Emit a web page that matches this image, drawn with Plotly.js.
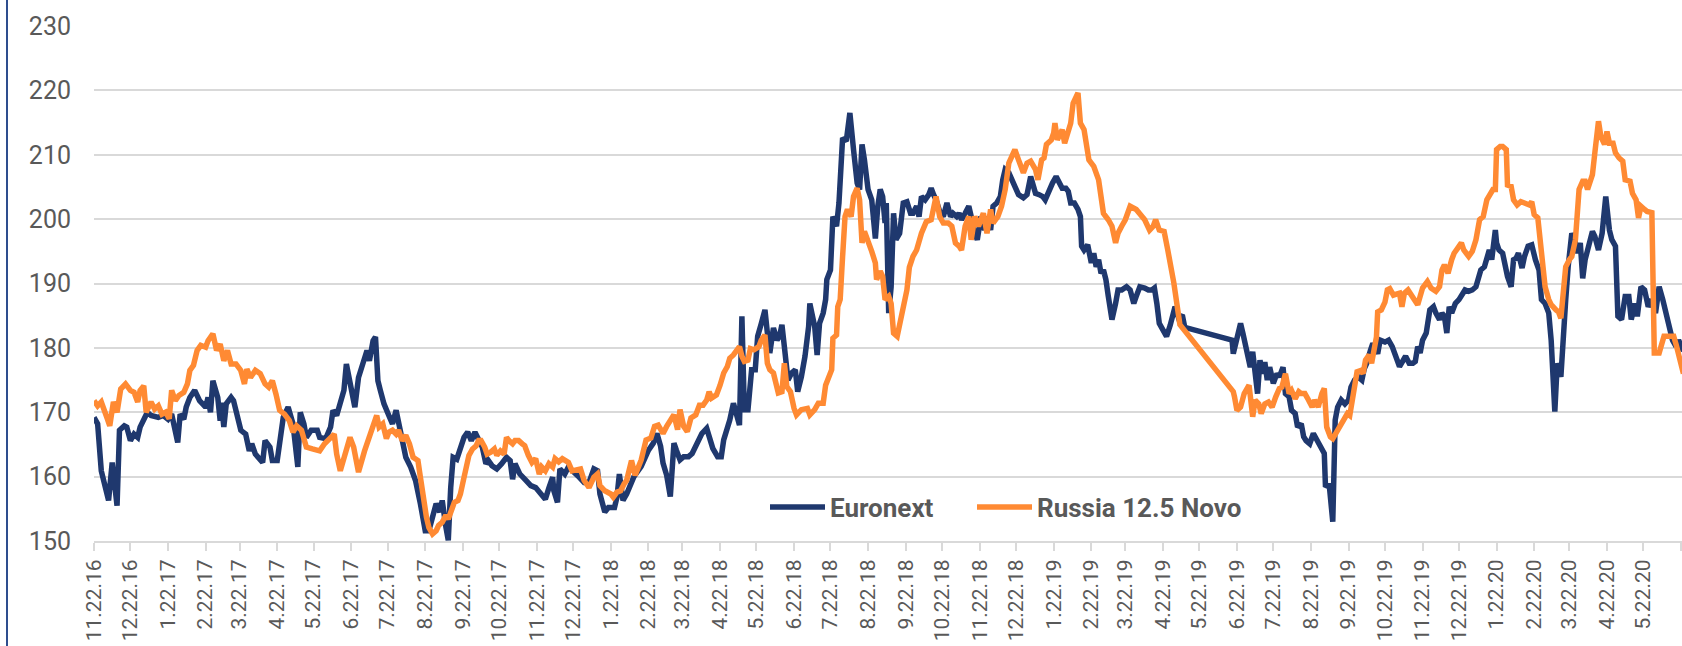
<!DOCTYPE html>
<html><head><meta charset="utf-8">
<script src="https://cdn.plot.ly/plotly-3.0.1.min.js"></script>
<style>html,body{margin:0;padding:0;background:#fff;} #chart{width:1682px;height:646px;}</style>
</head><body><div id="chart"></div>
<script>
// ---- Euronext ----
const euronextDates = [
"2016-11-22","2016-11-25","2016-11-28","2016-12-01","2016-12-04","2016-12-07","2016-12-11","2016-12-13","2016-12-17","2016-12-19","2016-12-22","2016-12-25","2016-12-28","2016-12-30",
"2017-01-02","2017-01-05","2017-01-08","2017-01-14","2017-01-18","2017-01-22","2017-01-25","2017-01-30","2017-02-01","2017-02-04","2017-02-06","2017-02-09","2017-02-13","2017-02-17","2017-02-22","2017-02-24","2017-02-26","2017-02-28",
"2017-03-04","2017-03-06","2017-03-07","2017-03-09","2017-03-11","2017-03-15","2017-03-17","2017-03-20","2017-03-23","2017-03-27","2017-03-30","2017-04-01","2017-04-04","2017-04-10","2017-04-12","2017-04-16","2017-04-18","2017-04-22","2017-04-25","2017-04-27",
"2017-05-01","2017-05-05","2017-05-09","2017-05-11","2017-05-14","2017-05-16","2017-05-20","2017-05-25","2017-05-27","2017-06-01","2017-06-05","2017-06-07","2017-06-10","2017-06-16","2017-06-18","2017-06-21","2017-06-25","2017-06-28",
"2017-07-02","2017-07-05","2017-07-07","2017-07-10","2017-07-12","2017-07-14","2017-07-16","2017-07-19","2017-07-23","2017-07-26","2017-07-29","2017-07-31","2017-08-03","2017-08-06","2017-08-10","2017-08-14","2017-08-18","2017-08-22","2017-08-25","2017-08-29","2017-08-31",
"2017-09-03","2017-09-05","2017-09-08","2017-09-10","2017-09-12","2017-09-14","2017-09-17","2017-09-20","2017-09-23","2017-09-26","2017-09-29","2017-10-02","2017-10-05","2017-10-08","2017-10-11","2017-10-13","2017-10-16","2017-10-20","2017-10-24","2017-10-28","2017-10-31",
"2017-11-02","2017-11-04","2017-11-08","2017-11-13","2017-11-17","2017-11-21","2017-11-25","2017-11-29","2017-12-02","2017-12-05","2017-12-06","2017-12-09","2017-12-11","2017-12-15","2017-12-18","2017-12-22","2017-12-27","2017-12-31",
"2018-01-04","2018-01-08","2018-01-11","2018-01-13","2018-01-17","2018-01-20","2018-01-25","2018-01-27","2018-01-29","2018-02-01","2018-02-04","2018-02-10","2018-02-16","2018-02-22","2018-02-26",
"2018-03-01","2018-03-04","2018-03-06","2018-03-09","2018-03-12","2018-03-15","2018-03-17","2018-03-20","2018-03-23","2018-03-27","2018-03-30","2018-04-03","2018-04-07","2018-04-11","2018-04-14","2018-04-16","2018-04-20","2018-04-23","2018-04-25","2018-04-27","2018-04-30",
"2018-05-03","2018-05-06","2018-05-08","2018-05-10","2018-05-12","2018-05-15","2018-05-18","2018-05-21","2018-05-23","2018-05-26","2018-05-29","2018-05-31","2018-06-02","2018-06-05","2018-06-08","2018-06-10","2018-06-12","2018-06-14","2018-06-17","2018-06-20","2018-06-23","2018-06-25","2018-06-28",
"2018-07-01","2018-07-04","2018-07-05","2018-07-07","2018-07-09","2018-07-11","2018-07-13","2018-07-16","2018-07-18","2018-07-19","2018-07-22","2018-07-24","2018-07-27","2018-07-29","2018-08-01","2018-08-04","2018-08-07","2018-08-10","2018-08-13","2018-08-15","2018-08-17","2018-08-19","2018-08-22","2018-08-25","2018-08-28","2018-08-30",
"2018-09-01","2018-09-03","2018-09-05","2018-09-06","2018-09-08","2018-09-10","2018-09-12","2018-09-14","2018-09-17","2018-09-20","2018-09-23","2018-09-26","2018-09-28","2018-10-01","2018-10-03","2018-10-05","2018-10-08","2018-10-11","2018-10-13","2018-10-15","2018-10-17","2018-10-20","2018-10-23","2018-10-26","2018-10-29","2018-10-31",
"2018-11-03","2018-11-05","2018-11-07","2018-11-10","2018-11-13","2018-11-15","2018-11-17","2018-11-20","2018-11-23","2018-11-26","2018-11-28","2018-12-01","2018-12-03","2018-12-06","2018-12-09","2018-12-11","2018-12-13","2018-12-16","2018-12-19","2018-12-22","2018-12-24","2018-12-28","2018-12-31",
"2019-01-03","2019-01-05","2019-01-07","2019-01-10","2019-01-13","2019-01-15","2019-01-18","2019-01-21","2019-01-24","2019-01-27","2019-01-29","2019-02-01","2019-02-03","2019-02-05","2019-02-08","2019-02-11","2019-02-13","2019-02-14","2019-02-16","2019-02-19","2019-02-22","2019-02-24","2019-02-26","2019-02-28",
"2019-03-02","2019-03-04","2019-03-06","2019-03-08","2019-03-11","2019-03-14","2019-03-16","2019-03-19","2019-03-23","2019-03-26","2019-03-29","2019-03-31","2019-04-03","2019-04-07","2019-04-10","2019-04-13","2019-04-15","2019-04-17","2019-04-19","2019-04-22","2019-04-25","2019-04-28","2019-05-02","2019-05-05","2019-05-08","2019-05-10",
"2019-06-18","2019-06-19","2019-06-22","2019-06-25","2019-06-27","2019-06-30","2019-07-03","2019-07-05","2019-07-07","2019-07-09","2019-07-11","2019-07-13","2019-07-15","2019-07-17","2019-07-19","2019-07-22","2019-07-25","2019-07-27","2019-07-30",
"2019-08-01","2019-08-04","2019-08-06","2019-08-09","2019-08-11","2019-08-14","2019-08-16","2019-08-18","2019-08-21","2019-08-24","2019-08-27","2019-08-29","2019-08-31","2019-09-02","2019-09-03","2019-09-06","2019-09-09","2019-09-11","2019-09-13","2019-09-16","2019-09-19","2019-09-22","2019-09-24","2019-09-27","2019-09-30",
"2019-10-03","2019-10-05","2019-10-07","2019-10-10","2019-10-12","2019-10-16","2019-10-18","2019-10-22","2019-10-25","2019-10-28","2019-10-31","2019-11-03","2019-11-08","2019-11-11","2019-11-14","2019-11-16","2019-11-18","2019-11-20","2019-11-22","2019-11-25","2019-11-28",
"2019-12-01","2019-12-03","2019-12-06","2019-12-08","2019-12-10","2019-12-12","2019-12-14","2019-12-16","2019-12-19","2019-12-22","2019-12-25","2019-12-27","2019-12-30",
"2020-01-02","2020-01-05","2020-01-07","2020-01-09","2020-01-12","2020-01-14","2020-01-16","2020-01-18","2020-01-21","2020-01-22","2020-01-24","2020-01-27","2020-01-29","2020-01-31","2020-02-03","2020-02-05","2020-02-07","2020-02-09","2020-02-12","2020-02-14","2020-02-17","2020-02-20","2020-02-23","2020-02-26","2020-02-28",
"2020-03-02","2020-03-05","2020-03-07","2020-03-10","2020-03-12","2020-03-15","2020-03-17","2020-03-19","2020-03-21","2020-03-24","2020-03-27","2020-03-29","2020-03-31","2020-04-02","2020-04-04","2020-04-07","2020-04-10","2020-04-12","2020-04-15","2020-04-18","2020-04-20","2020-04-21","2020-04-24","2020-04-26","2020-04-29",
"2020-05-01","2020-05-04","2020-05-07","2020-05-10","2020-05-12","2020-05-15","2020-05-17","2020-05-20","2020-05-23","2020-05-26","2020-05-29","2020-06-01","2020-06-04","2020-06-07","2020-06-10","2020-06-12","2020-06-15","2020-06-18","2020-06-20","2020-06-24"
];
const euronextValues = [
169.2,168.2,160.9,158.9,156.3,162.2,155.5,167.2,167.9,167.7,165.6,166.6,166.1,167.7,
168.7,170.0,169.5,169.2,169.5,168.9,169.7,165.3,169.7,168.9,170.8,172.3,173.4,171.8,170.8,172.3,170.0,174.9,
172.3,168.7,171.5,167.7,171.3,172.3,171.8,169.7,167.2,166.6,164.0,165.1,163.5,162.2,165.6,164.6,162.5,162.5,167.2,169.2,
170.8,168.2,161.5,170.0,168.2,166.1,167.2,167.2,166.1,165.9,167.7,170.3,169.5,173.4,177.5,174.9,170.8,175.4,
177.5,179.6,178.0,181.1,181.7,174.9,173.4,171.3,169.5,168.2,170.3,168.4,165.1,163.0,161.5,159.4,155.8,151.6,151.6,154.5,155.8,
154.5,156.3,152.2,150.1,158.3,163.0,162.7,164.6,166.1,166.9,165.6,166.9,165.6,164.6,162.0,162.5,161.7,161.2,162.0,163.0,162.5,
159.6,162.0,160.4,159.4,158.6,158.3,157.3,156.5,158.3,159.9,157.8,156.0,161.2,160.4,161.5,160.9,159.9,159.1,
159.1,161.2,160.9,157.3,154.5,155.2,155.2,156.8,160.4,156.3,157.3,160.0,161.6,164.1,165.2,
166.7,164.7,162.1,160.2,156.9,165.2,164.1,162.6,163.1,163.1,163.6,165.2,166.7,167.5,165.2,164.4,163.1,163.1,165.7,166.7,168.8,
171.4,168.8,168.0,184.9,170.4,170.4,176.6,176.6,181.8,183.8,185.9,182.3,179.2,183.1,181.2,181.8,183.6,180.2,175.0,176.1,176.6,173.2,175.5,
178.7,183.3,186.9,185.4,183.3,178.9,183.8,185.4,187.5,190.6,192.1,200.4,198.9,202.5,212.6,212.1,216.5,210.8,205.6,204.6,211.6,209.2,204.6,203.0,197.0,202.0,
204.6,203.5,199.4,202.5,185.4,189.5,200.9,196.8,197.8,202.5,202.7,200.9,200.9,202.0,200.4,203.5,203.0,203.8,204.8,203.8,203.0,201.2,200.4,202.5,200.4,200.9,
200.4,200.9,199.9,200.9,202.0,200.4,198.3,196.8,200.4,198.3,200.4,198.3,202.0,202.5,203.5,206.1,207.7,207.2,206.1,204.8,203.8,203.3,203.8,
206.6,205.6,204.0,203.8,203.5,203.0,204.6,205.6,206.6,205.6,204.8,204.8,204.3,202.5,202.5,201.5,200.4,195.8,195.2,196.0,193.2,194.7,192.6,193.7,
191.6,192.1,190.6,188.0,184.4,186.9,189.0,189.0,189.5,189.0,186.9,188.0,189.5,189.3,189.0,189.0,189.3,186.9,183.8,182.8,181.8,183.5,186.4,184.6,185.1,183.2,
181.2,179.1,181.2,183.8,182.2,179.6,177.0,179.4,176.0,172.9,178.1,176.0,177.8,175.0,177.0,174.5,176.0,175.5,177.0,
172.9,172.4,170.3,169.8,167.7,168.2,166.2,165.6,165.1,166.7,165.6,165.1,164.1,163.6,158.4,158.9,153.0,168.8,170.8,171.9,171.3,171.9,173.9,175.0,175.5,
175.0,176.8,177.6,179.6,180.7,179.1,181.2,180.9,181.2,180.2,178.9,177.1,178.7,177.6,177.6,177.9,180.2,179.2,181.2,182.3,185.9,
186.4,185.4,184.4,185.4,184.9,182.3,186.4,185.4,186.9,187.5,188.5,189.0,188.8,
189.0,189.5,190.6,192.1,192.6,194.2,195.2,193.7,198.3,196.3,195.2,194.7,192.6,191.1,189.5,193.7,193.9,194.7,192.4,194.2,195.8,196.0,193.7,192.1,187.5,
186.9,185.4,181.2,170.1,177.6,175.5,180.2,187.5,192.6,197.8,196.3,194.7,196.3,190.8,193.7,195.8,198.1,197.3,195.2,197.8,203.5,203.5,198.3,196.8,195.8,
184.9,184.4,188.0,188.0,184.4,186.9,184.9,189.5,189.0,186.4,187.5,185.4,189.5,187.5,184.9,182.8,181.2,180.2,181.2,179.5
];

// ---- Russia 12.5 Novo ----
const russiaDates = [
"2016-11-22","2016-11-25","2016-11-28","2016-11-30","2016-12-03","2016-12-05","2016-12-08","2016-12-11","2016-12-14","2016-12-18","2016-12-22","2016-12-25","2016-12-28","2016-12-30",
"2017-01-02","2017-01-04","2017-01-08","2017-01-11","2017-01-14","2017-01-17","2017-01-20","2017-01-23","2017-01-25","2017-01-28","2017-01-31","2017-02-04","2017-02-07","2017-02-09","2017-02-12","2017-02-15","2017-02-18","2017-02-22","2017-02-24","2017-02-28",
"2017-03-03","2017-03-06","2017-03-09","2017-03-12","2017-03-15","2017-03-19","2017-03-23","2017-03-26","2017-03-28","2017-03-31","2017-04-04","2017-04-08","2017-04-12","2017-04-15","2017-04-18","2017-04-21","2017-04-24","2017-04-28",
"2017-05-02","2017-05-05","2017-05-08","2017-05-12","2017-05-16","2017-05-21","2017-05-27","2017-05-31","2017-06-05","2017-06-08","2017-06-10","2017-06-13","2017-06-17","2017-06-21","2017-06-24","2017-06-28",
"2017-07-03","2017-07-05","2017-07-08","2017-07-11","2017-07-13","2017-07-15","2017-07-18","2017-07-21","2017-07-23","2017-07-26","2017-07-29","2017-07-31","2017-08-03","2017-08-06","2017-08-09","2017-08-12","2017-08-16","2017-08-18","2017-08-20","2017-08-23","2017-08-25","2017-08-28","2017-08-31",
"2017-09-02","2017-09-05","2017-09-08","2017-09-10","2017-09-12","2017-09-15","2017-09-18","2017-09-20","2017-09-23","2017-09-25","2017-09-27","2017-09-30","2017-10-03","2017-10-05","2017-10-07","2017-10-10","2017-10-12","2017-10-15","2017-10-18","2017-10-20","2017-10-23","2017-10-26","2017-10-28","2017-10-30",
"2017-11-02","2017-11-04","2017-11-07","2017-11-10","2017-11-12","2017-11-15","2017-11-18","2017-11-21","2017-11-24","2017-11-26","2017-11-29","2017-12-02","2017-12-05","2017-12-07","2017-12-10","2017-12-13","2017-12-16","2017-12-18","2017-12-21","2017-12-24","2017-12-28","2017-12-31",
"2018-01-04","2018-01-08","2018-01-11","2018-01-13","2018-01-17","2018-01-22","2018-01-24","2018-01-27","2018-01-30","2018-02-02","2018-02-04","2018-02-08","2018-02-11","2018-02-16","2018-02-20","2018-02-24","2018-02-27",
"2018-03-02","2018-03-06","2018-03-09","2018-03-12","2018-03-15","2018-03-18","2018-03-20","2018-03-23","2018-03-26","2018-03-29","2018-04-02","2018-04-05","2018-04-08","2018-04-11","2018-04-13","2018-04-15","2018-04-19","2018-04-22","2018-04-25","2018-04-28","2018-04-30",
"2018-05-03","2018-05-06","2018-05-08","2018-05-10","2018-05-12","2018-05-15","2018-05-17","2018-05-20","2018-05-24","2018-05-26","2018-05-29","2018-05-31","2018-06-02","2018-06-05","2018-06-07","2018-06-09","2018-06-12","2018-06-14","2018-06-16","2018-06-19","2018-06-22","2018-06-24","2018-06-28",
"2018-07-03","2018-07-05","2018-07-09","2018-07-12","2018-07-16","2018-07-18","2018-07-20","2018-07-23","2018-07-24","2018-07-27","2018-07-28","2018-07-30","2018-08-01","2018-08-03","2018-08-05","2018-08-08","2018-08-10","2018-08-13","2018-08-15","2018-08-17","2018-08-19","2018-08-22","2018-08-25","2018-08-28","2018-08-29",
"2018-09-01","2018-09-03","2018-09-05","2018-09-08","2018-09-10","2018-09-12","2018-09-15","2018-09-17","2018-09-20","2018-09-23","2018-09-25","2018-09-28","2018-10-01","2018-10-05","2018-10-09","2018-10-13","2018-10-17","2018-10-20","2018-10-23","2018-10-27","2018-10-30",
"2018-11-02","2018-11-05","2018-11-07","2018-11-10","2018-11-13","2018-11-15","2018-11-18","2018-11-21","2018-11-25","2018-11-28","2018-12-01","2018-12-03","2018-12-07","2018-12-10","2018-12-13","2018-12-16","2018-12-21","2018-12-24","2018-12-28","2018-12-31",
"2019-01-03","2019-01-07","2019-01-09","2019-01-12","2019-01-14","2019-01-16","2019-01-20","2019-01-22","2019-01-23","2019-01-25","2019-01-29","2019-01-31","2019-02-03","2019-02-05","2019-02-07","2019-02-11","2019-02-13","2019-02-16","2019-02-20","2019-02-24","2019-02-28",
"2019-03-04","2019-03-08","2019-03-11","2019-03-14","2019-03-16","2019-03-19","2019-03-22","2019-03-26","2019-03-31","2019-04-07","2019-04-11","2019-04-14","2019-04-16","2019-04-19","2019-04-23","2019-04-26","2019-05-01","2019-05-06",
"2019-06-19","2019-06-20","2019-06-22","2019-06-25","2019-06-28","2019-07-02","2019-07-05","2019-07-07","2019-07-10","2019-07-12","2019-07-15","2019-07-18","2019-07-21","2019-07-24","2019-07-27","2019-07-29",
"2019-08-01","2019-08-04","2019-08-06","2019-08-09","2019-08-12","2019-08-14","2019-08-17","2019-08-20","2019-08-23","2019-08-25","2019-08-28","2019-08-31","2019-09-02","2019-09-04","2019-09-07","2019-09-09","2019-09-12","2019-09-15","2019-09-18","2019-09-21","2019-09-23","2019-09-25","2019-09-27","2019-09-29",
"2019-10-02","2019-10-04","2019-10-06","2019-10-09","2019-10-11","2019-10-13","2019-10-15","2019-10-16","2019-10-19","2019-10-22","2019-10-24","2019-10-26","2019-10-29","2019-11-01","2019-11-03","2019-11-05","2019-11-07","2019-11-10","2019-11-14","2019-11-18","2019-11-22","2019-11-26","2019-11-29",
"2019-12-03","2019-12-06","2019-12-08","2019-12-10","2019-12-13","2019-12-16","2019-12-18","2019-12-21","2019-12-24","2019-12-26","2019-12-30",
"2020-01-02","2020-01-05","2020-01-08","2020-01-11","2020-01-14","2020-01-16","2020-01-19","2020-01-21","2020-01-22","2020-01-25","2020-01-27","2020-01-30","2020-01-31","2020-02-03","2020-02-05","2020-02-08","2020-02-11","2020-02-14","2020-02-18","2020-02-20","2020-02-22","2020-02-25","2020-02-27","2020-02-29",
"2020-03-02","2020-03-05","2020-03-07","2020-03-11","2020-03-13","2020-03-15","2020-03-17","2020-03-19","2020-03-22","2020-03-24","2020-03-27","2020-03-30","2020-04-02","2020-04-04","2020-04-06","2020-04-08","2020-04-10","2020-04-12","2020-04-15","2020-04-17","2020-04-20","2020-04-22","2020-04-24","2020-04-27","2020-04-29",
"2020-05-02","2020-05-05","2020-05-07","2020-05-11","2020-05-13","2020-05-16","2020-05-18","2020-05-20","2020-05-23","2020-05-25","2020-05-29","2020-05-31","2020-06-04","2020-06-08","2020-06-10","2020-06-16","2020-06-18","2020-06-22","2020-06-24"
];
const russiaValues = [
171.8,171.0,171.6,170.3,169.0,167.9,171.6,170.0,173.6,174.4,173.4,173.1,171.6,173.4,
174.1,170.0,171.6,170.5,171.0,169.7,170.0,169.0,173.4,171.8,172.6,173.1,174.4,176.5,177.3,179.6,180.4,180.1,181.1,182.2,
179.6,180.6,178.0,179.6,177.5,177.5,176.5,174.4,176.7,175.4,176.5,176.0,174.4,173.9,174.9,172.8,170.3,169.7,
168.7,166.9,167.9,167.2,164.6,164.3,164.0,165.1,166.1,166.6,163.5,160.9,163.5,166.1,164.6,160.7,
164.0,165.1,166.1,168.2,169.5,167.7,168.2,165.9,166.9,167.2,166.6,167.2,165.6,166.4,165.1,163.0,162.5,159.9,156.8,153.7,152.1,151.1,151.6,
152.4,152.9,154.0,153.4,154.7,156.0,156.3,157.3,159.9,162.0,163.3,164.3,164.8,165.6,165.6,164.6,163.5,163.8,164.3,163.3,164.0,163.5,166.1,165.6,
165.1,165.6,165.6,165.1,164.8,163.3,162.2,162.8,160.4,161.5,160.9,162.0,161.5,162.8,162.3,162.8,162.5,162.2,160.9,161.0,161.2,159.4,
158.3,159.9,160.4,158.6,157.8,157.3,156.8,157.6,157.8,158.9,159.4,162.5,160.2,162.6,165.7,166.0,167.8,
168.0,166.7,167.8,168.8,169.6,167.3,170.4,167.8,167.0,169.1,169.6,171.1,171.1,171.9,173.2,172.2,172.7,174.2,176.1,177.1,178.4,
178.9,179.7,180.2,178.7,177.9,178.1,179.9,179.7,180.2,181.2,182.0,177.6,176.6,176.1,174.0,173.0,173.2,177.6,174.0,173.2,170.6,169.6,170.4,
170.6,169.6,170.4,171.4,171.4,174.2,175.0,176.6,181.5,182.0,186.4,187.5,194.2,200.4,201.5,200.4,203.5,204.8,203.0,196.3,198.1,196.8,195.0,193.2,190.6,
191.9,191.1,187.5,188.0,186.9,182.3,181.8,183.8,185.9,189.0,192.5,194.2,195.2,197.8,199.6,199.9,203.5,200.4,199.4,199.4,198.9,
196.3,195.8,195.2,198.9,200.4,196.8,200.4,198.9,200.9,197.8,201.5,199.4,200.4,202.0,204.6,208.7,210.8,209.2,207.2,208.7,
209.0,207.7,206.1,209.2,209.5,211.6,212.3,213.4,214.9,212.3,213.9,211.8,213.9,214.9,218.0,219.6,214.9,213.9,209.2,208.2,206.1,
200.9,199.9,198.9,196.3,197.8,198.9,199.9,202.0,201.5,199.9,198.3,198.9,199.9,198.3,198.1,195.2,190.1,183.6,
173.2,172.4,170.3,170.8,172.9,174.2,169.3,171.9,171.3,169.8,171.3,171.6,170.8,172.4,173.7,173.9,
176.0,172.9,173.4,172.1,173.2,172.9,172.9,171.9,170.8,171.9,170.8,172.9,173.7,167.7,166.2,165.9,166.9,167.7,168.5,169.8,169.5,171.9,173.9,176.3,
176.5,176.0,178.1,178.9,177.6,179.6,181.7,185.6,185.9,187.1,189.0,189.2,188.2,188.4,188.5,186.4,188.5,189.0,188.0,186.7,189.3,190.3,189.3,
188.8,189.5,192.1,192.9,191.6,193.7,194.7,195.5,196.3,195.2,194.2,
195.0,196.8,199.9,200.4,203.0,203.8,204.6,204.6,210.8,211.3,211.3,210.8,205.3,205.1,203.0,202.2,202.7,202.5,202.2,202.7,200.7,200.2,196.8,192.6,
189.5,187.5,186.7,185.9,185.6,184.6,189.5,192.6,193.7,194.2,196.8,204.6,205.9,205.9,204.6,206.1,206.9,210.3,215.2,212.8,211.6,213.6,211.8,211.8,210.3,
209.5,209.0,206.1,205.9,204.0,203.0,200.2,202.0,201.5,201.2,201.0,179.2,179.2,181.8,181.8,181.8,180.5,177.1,176.0
];

const seriesNames = ["Euronext", "Russia 12.5 Novo"];
const seriesColors = ["#1F386E", "#FF8A33"];

const traces = [
  {x: euronextDates, y: euronextValues, name: seriesNames[0], type: "scatter", mode: "lines",
   line: {color: seriesColors[0], width: 5.5}, legendwidth: 137, hoverinfo: "skip"},
  {x: russiaDates, y: russiaValues, name: seriesNames[1], type: "scatter", mode: "lines",
   line: {color: seriesColors[1], width: 5.5}, legendwidth: 240, hoverinfo: "skip"}
];

const layout = {
  width: 1682, height: 646,
  margin: {l: 94, r: 0, t: 26, b: 105, pad: 0},
  paper_bgcolor: "#ffffff", plot_bgcolor: "#ffffff",
  font: {family: "Roboto, 'Open Sans', sans-serif", color: "#595959"},
  showlegend: true,
  legend: {
    orientation: "h", x: (765 - 94) / 1588, xanchor: "left", y: 0.066, yanchor: "middle",
    font: {size: 26, color: "#595959", family: "Roboto, sans-serif", weight: "bold"},
    itemwidth: 55, bgcolor: "rgba(0,0,0,0)", borderwidth: 0
  },
  xaxis: {
    type: "date", range: ["2016-11-22", "2020-06-22 20:00"],
    tick0: "2016-11-22", dtick: "M1", tickformat: "%-m.%d.%y", tickangle: -90,
    tickfont: {size: 21, color: "#595959"},
    ticks: "outside", ticklen: 8, tickwidth: 2, tickcolor: "#d9d9d9",
    showline: true, linecolor: "#d9d9d9", linewidth: 2,
    showgrid: false, zeroline: false, fixedrange: true
  },
  yaxis: {
    range: [150, 230], tick0: 150, dtick: 10,
    gridcolor: "#d9d9d9", gridwidth: 2, showline: false, zeroline: false,
    tickfont: {size: 25, color: "#595959"}, ticks: "", ticklabelstandoff: 22, fixedrange: true
  },
  shapes: [{
    type: "line", xref: "paper", yref: "paper",
    x0: -87 / 1588, x1: -87 / 1588, y0: -105 / 515, y1: 1 + 26 / 515,
    line: {color: "#2E4D8E", width: 2}
  }]
};

Plotly.newPlot("chart", traces, layout, {displayModeBar: false, staticPlot: true});
</script>
</body></html>
